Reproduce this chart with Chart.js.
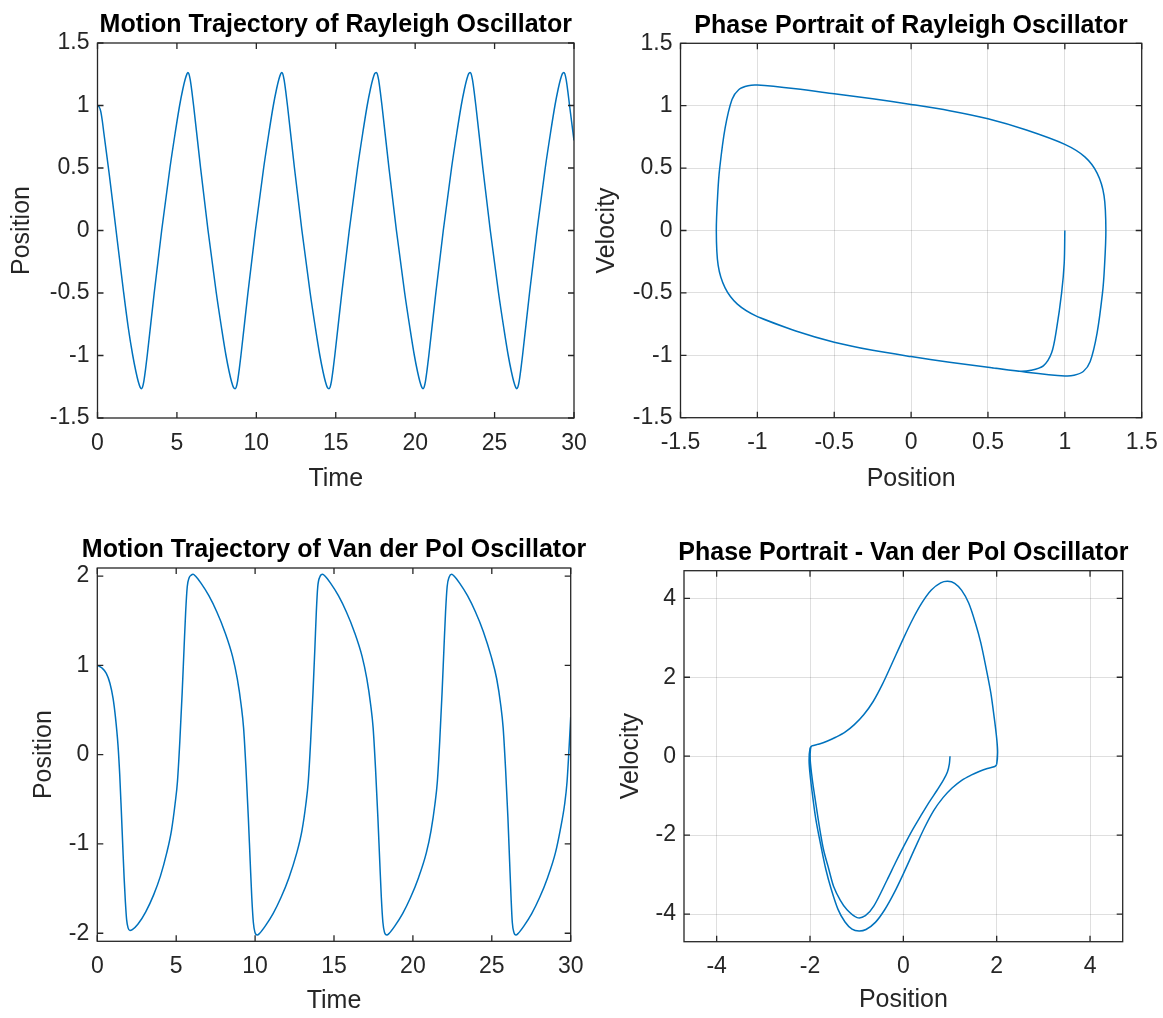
<!DOCTYPE html>
<html>
<head>
<meta charset="utf-8">
<title>Rayleigh and Van der Pol oscillators</title>
<script src="https://cdn.jsdelivr.net/npm/chart.js"></script>
<style>
  html, body { margin: 0; padding: 0; background: #fff; }
  body { width: 1163px; height: 1018px; position: relative; overflow: hidden; }
  canvas { position: absolute; }
</style>
</head>
<body>
<canvas id="rayMotion"></canvas>
<canvas id="rayPhase"></canvas>
<canvas id="vdpMotion"></canvas>
<canvas id="vdpPhase"></canvas>
<script>
// Rayleigh oscillator, position over time
const rayTime = [
  0, 0.1, 0.2, 0.3, 0.4, 0.73, 1.17, 1.62, 1.94, 2.22, 2.42, 2.57, 2.69, 2.77,
  2.83, 2.92, 3.02, 3.13, 3.57, 4.04, 4.56, 4.89, 5.17, 5.37, 5.52, 5.64, 5.69,
  5.75, 5.84, 5.94, 6.05, 6.49, 6.96, 7.48, 7.81, 8.09, 8.29, 8.44, 8.56, 8.67,
  8.73, 8.82, 8.92, 9.03, 9.47, 9.94, 10.46, 10.79, 11.07, 11.27, 11.42, 11.54, 11.6,
  11.66, 11.75, 11.85, 11.96, 12.4, 12.87, 13.39, 13.72, 14.0, 14.2, 14.35, 14.47, 14.58,
  14.64, 14.73, 14.83, 14.94, 15.38, 15.85, 16.37, 16.7, 16.98, 17.18, 17.33, 17.45, 17.55,
  17.61, 17.7, 17.8, 17.91, 18.35, 18.82, 19.34, 19.67, 19.95, 20.15, 20.3, 20.42, 20.5,
  20.56, 20.65, 20.75, 20.86, 21.3, 21.77, 22.29, 22.62, 22.9, 23.1, 23.25, 23.37, 23.46,
  23.52, 23.61, 23.71, 23.82, 24.26, 24.73, 25.25, 25.58, 25.86, 26.06, 26.21, 26.33, 26.4,
  26.46, 26.55, 26.65, 26.76, 27.2, 27.67, 28.19, 28.52, 28.8, 29.0, 29.15, 29.27, 29.36,
  29.42, 29.51, 29.61, 29.72, 30
];
const rayPos = [
  1.0, 0.99, 0.955, 0.88, 0.78, 0.46, 0.0, -0.47, -0.78, -1.0, -1.13, -1.21, -1.255, -1.265,
  -1.255, -1.205, -1.115, -1.0, -0.5, 0.0, 0.5, 0.78, 1.0, 1.13, 1.21, 1.255, 1.265,
  1.255, 1.205, 1.115, 1.0, 0.5, 0.0, -0.5, -0.78, -1.0, -1.13, -1.21, -1.255, -1.265,
  -1.255, -1.205, -1.115, -1.0, -0.5, 0.0, 0.5, 0.78, 1.0, 1.13, 1.21, 1.255, 1.265,
  1.255, 1.205, 1.115, 1.0, 0.5, 0.0, -0.5, -0.78, -1.0, -1.13, -1.21, -1.255, -1.265,
  -1.255, -1.205, -1.115, -1.0, -0.5, 0.0, 0.5, 0.78, 1.0, 1.13, 1.21, 1.255, 1.265,
  1.255, 1.205, 1.115, 1.0, 0.5, 0.0, -0.5, -0.78, -1.0, -1.13, -1.21, -1.255, -1.265,
  -1.255, -1.205, -1.115, -1.0, -0.5, 0.0, 0.5, 0.78, 1.0, 1.13, 1.21, 1.255, 1.265,
  1.255, 1.205, 1.115, 1.0, 0.5, 0.0, -0.5, -0.78, -1.0, -1.13, -1.21, -1.255, -1.265,
  -1.255, -1.205, -1.115, -1.0, -0.5, 0.0, 0.5, 0.78, 1.0, 1.13, 1.21, 1.255, 1.265,
  1.255, 1.205, 1.115, 1.0, 0.72
];

// Rayleigh oscillator, phase plane (position, velocity)
const rayPhasePos = [
  1.0, 0.996, 0.979, 0.946, 0.914, 0.86, 0.78, 0.7, 0.5, 0.25, 0.0, -0.25, -0.5, -0.75, -1.0,
  -1.13, -1.21, -1.255, -1.267, -1.257, -1.245, -1.21, -1.165, -1.12, -1.06, -1.0,
  -0.75, -0.5, -0.25, 0.0, 0.25, 0.5, 0.75, 1.0,
  1.13, 1.21, 1.255, 1.267, 1.257, 1.245, 1.21, 1.165, 1.12, 1.06, 1.0,
  0.75, 0.5, 0.25, 0.0, -0.25, -0.5, -0.75, -1.0
];
const rayPhaseVel = [
  0.0, -0.26, -0.5, -0.79, -0.98, -1.085, -1.12, -1.127, -1.095, -1.055, -1.01, -0.96, -0.895, -0.805, -0.69,
  -0.59, -0.46, -0.28, 0.0, 0.31, 0.5, 0.82, 1.05, 1.13, 1.16, 1.165,
  1.135, 1.095, 1.055, 1.01, 0.96, 0.895, 0.805, 0.69,
  0.59, 0.46, 0.28, 0.0, -0.31, -0.5, -0.82, -1.05, -1.13, -1.16, -1.165,
  -1.135, -1.095, -1.055, -1.01, -0.96, -0.895, -0.805, -0.69
];

// Van der Pol oscillator, position over time
const vdpTime = [
  0, 0.3, 0.57, 0.8, 1.0, 1.15, 1.31, 1.42, 1.52, 1.62, 1.7, 1.78, 1.86, 1.95, 2.07,
  2.22, 2.57, 3.07, 3.57, 4.0, 4.4, 4.7, 4.93, 5.08, 5.23, 5.38, 5.5, 5.6, 5.7, 5.82, 5.95, 6.07,
  6.22, 6.57, 7.07, 7.57, 8.07, 8.57, 8.87, 9.12, 9.27, 9.42, 9.57, 9.69, 9.79, 9.89, 9.99, 10.14,
  10.29, 10.64, 11.14, 11.64, 12.14, 12.64, 12.97, 13.22, 13.37, 13.52, 13.67, 13.79, 13.88, 13.97, 14.1, 14.28,
  14.43, 14.78, 15.28, 15.78, 16.28, 16.78, 17.08, 17.33, 17.48, 17.63, 17.78, 17.9, 18.0, 18.1, 18.2, 18.35,
  18.5, 18.85, 19.35, 19.85, 20.35, 20.85, 21.15, 21.4, 21.55, 21.7, 21.85, 21.97, 22.07, 22.17, 22.3, 22.46,
  22.61, 22.96, 23.46, 23.96, 24.46, 24.96, 25.31, 25.57, 25.72, 25.87, 26.02, 26.13, 26.22, 26.3, 26.4, 26.53,
  26.68, 27.03, 27.53, 28.03, 28.53, 29.03, 29.33, 29.62, 29.77, 29.92, 30
];
const vdpPos = [
  1.0, 0.97, 0.91, 0.8, 0.63, 0.42, 0.11, -0.22, -0.62, -1.05, -1.38, -1.65, -1.85, -1.94, -1.97,
  -1.96, -1.9, -1.76, -1.57, -1.36, -1.1, -0.85, -0.55, -0.3, 0.15, 0.7, 1.2, 1.6, 1.88, 1.98, 2.01, 2.02,
  2.0, 1.92, 1.78, 1.6, 1.38, 1.1, 0.85, 0.55, 0.3, -0.15, -0.7, -1.2, -1.6, -1.88, -1.99, -2.02,
  -2.0, -1.92, -1.78, -1.6, -1.38, -1.1, -0.85, -0.55, -0.3, 0.15, 0.7, 1.2, 1.6, 1.88, 1.99, 2.02,
  2.0, 1.92, 1.78, 1.6, 1.38, 1.1, 0.85, 0.55, 0.3, -0.15, -0.7, -1.2, -1.6, -1.88, -1.99, -2.02,
  -2.0, -1.92, -1.78, -1.6, -1.38, -1.1, -0.85, -0.55, -0.3, 0.15, 0.7, 1.2, 1.6, 1.88, 1.99, 2.02,
  2.0, 1.92, 1.78, 1.6, 1.38, 1.1, 0.85, 0.55, 0.3, -0.15, -0.7, -1.2, -1.6, -1.88, -1.99, -2.02,
  -2.0, -1.92, -1.78, -1.6, -1.38, -1.1, -0.85, -0.55, -0.3, 0.15, 0.42
];

// Van der Pol oscillator, phase plane (position, velocity)
const vdpPhasePos = [
  // start at (1, 0), first swing
  1.0, 0.985, 0.944, 0.86, 0.729, 0.55, 0.37, 0.19, 0.01, -0.17, -0.346, -0.634, -0.813, -0.99,
  -1.207, -1.35, -1.494, -1.6, -1.71, -1.8, -1.888, -1.95, -1.996, -1.99, -1.96,
  // limit cycle, upper half
  -1.8, -1.637, -1.45, -1.25, -1.05, -0.85, -0.65, -0.45, -0.25, 0.0, 0.2, 0.4, 0.6, 0.8, 0.95,
  1.1, 1.25, 1.4, 1.55, 1.66, 1.77, 1.875, 1.95, 2.0, 2.02, 2.0,
  // lower half
  1.96, 1.8, 1.637, 1.45, 1.25, 1.05, 0.85, 0.65, 0.45, 0.25, 0.0, -0.2, -0.4, -0.6, -0.8, -0.95,
  -1.1, -1.25, -1.4, -1.55, -1.66, -1.77, -1.875, -1.95, -2.0, -2.02, -2.0,
  // next lap over the same path
  -1.96, -1.8, -1.637, -1.45, -1.25, -1.05, -0.85, -0.65, -0.45, -0.25, 0.0, 0.2, 0.4, 0.6, 0.8, 0.95,
  1.1, 1.25, 1.4, 1.55, 1.66, 1.77, 1.875, 1.95, 2.0, 2.02, 2.0
];
const vdpPhaseVel = [
  0.0, -0.2, -0.4, -0.6, -0.85, -1.17, -1.52, -1.88, -2.28, -2.7, -3.13, -3.8, -4.04, -4.09,
  -3.89, -3.65, -3.3, -2.85, -2.37, -1.78, -1.1, -0.6, -0.09, 0.18, 0.26,
  0.31, 0.38, 0.48, 0.61, 0.8, 1.05, 1.38, 1.82, 2.33, 2.98, 3.47, 3.89, 4.21, 4.39, 4.43,
  4.38, 4.2, 3.88, 3.35, 2.87, 2.25, 1.6, 0.95, 0.45, 0.1, -0.2,
  -0.26, -0.31, -0.38, -0.48, -0.61, -0.8, -1.05, -1.38, -1.82, -2.33, -2.98, -3.47, -3.89, -4.21, -4.39, -4.43,
  -4.38, -4.2, -3.88, -3.35, -2.87, -2.25, -1.6, -0.95, -0.45, -0.1, 0.2,
  0.26, 0.31, 0.38, 0.48, 0.61, 0.8, 1.05, 1.38, 1.82, 2.33, 2.98, 3.47, 3.89, 4.21, 4.39, 4.43,
  4.38, 4.2, 3.88, 3.35, 2.87, 2.25, 1.6, 0.95, 0.45, 0.1, -0.2
];

// tick positions
const timeTicks = [0, 5, 10, 15, 20, 25, 30];
const rayTicks = [-1.5, -1, -0.5, 0, 0.5, 1, 1.5];
const vdpPosTicks = [-2, -1, 0, 1, 2];
const vdpPhaseTicks = [-4, -2, 0, 2, 4];

const FONT = '"Liberation Sans", Arial, Helvetica, sans-serif';
const INK = '#262626';
const LINE = '#0072BD';
const GRID = 'rgba(38, 38, 38, 0.15)';

// box around the axes with inward tick marks on all four sides
const matlabFrame = {
  id: 'matlabFrame',
  afterDatasetsDraw(chart) {
    const { ctx, chartArea: a } = chart;
    const { x, y } = chart.scales;
    const len = 6;
    ctx.save();
    ctx.strokeStyle = INK;
    ctx.lineWidth = 1.3;
    ctx.beginPath();
    x.ticks.forEach(t => {
      const p = x.getPixelForValue(t.value);
      ctx.moveTo(p, a.bottom); ctx.lineTo(p, a.bottom - len);
      ctx.moveTo(p, a.top); ctx.lineTo(p, a.top + len);
    });
    y.ticks.forEach(t => {
      const p = y.getPixelForValue(t.value);
      ctx.moveTo(a.left, p); ctx.lineTo(a.left + len, p);
      ctx.moveTo(a.right, p); ctx.lineTo(a.right - len, p);
    });
    ctx.stroke();
    ctx.strokeRect(a.left, a.top, a.right - a.left, a.bottom - a.top);
    ctx.restore();
  }
};

// bold title centred over the plot area
const axesTitle = {
  id: 'axesTitle',
  afterDraw(chart, args, opts) {
    const { ctx, chartArea: a } = chart;
    ctx.save();
    ctx.fillStyle = '#000';
    ctx.font = 'bold 25px ' + FONT;
    ctx.textAlign = 'center';
    ctx.textBaseline = 'middle';
    ctx.fillText(opts.text, (a.left + a.right) / 2, a.top - 17.5);
    ctx.restore();
  }
};

function axis(o) {
  return {
    type: 'linear',
    min: o.min,
    max: o.max,
    afterBuildTicks: s => { s.ticks = o.ticks.map(v => ({ value: v })); },
    afterFit: s => {
      if (s.isHorizontal()) s.height = o.size; else s.width = o.size;
      s.paddingLeft = s.paddingRight = s.paddingTop = s.paddingBottom = 0;
    },
    grid: { display: o.grid, color: GRID, lineWidth: 1, drawTicks: false },
    border: { display: false },
    ticks: {
      color: INK, font: { family: FONT, size: 23 }, padding: o.tickPad,
      autoSkip: false, maxRotation: 0, minRotation: 0,
      callback: v => String(v)
    },
    title: {
      display: true, text: o.label, color: INK,
      font: { family: FONT, size: 25 }, padding: o.titlePad
    }
  };
}

function makePlot(id, box, cfg) {
  const canvas = document.getElementById(id);
  canvas.width = box.w;
  canvas.height = box.h;
  canvas.style.left = box.x + 'px';
  canvas.style.top = box.y + 'px';

  const points = cfg.xs.map((v, i) => ({ x: v, y: cfg.ys[i] }));

  return new Chart(canvas, {
    type: 'line',
    data: {
      datasets: [{
        data: points,
        borderColor: LINE,
        borderWidth: 1.5,
        pointRadius: 0,
        fill: false,
        tension: cfg.tension,
        cubicInterpolationMode: cfg.monotone ? 'monotone' : 'default'
      }]
    },
    options: {
      responsive: false,
      animation: false,
      events: [],
      layout: { padding: { left: 0, top: box.padTop, right: box.padRight, bottom: 0 } },
      plugins: {
        legend: { display: false },
        tooltip: { enabled: false },
        title: { display: false },
        axesTitle: { text: cfg.title }
      },
      scales: {
        x: axis(cfg.x),
        y: axis(cfg.y)
      }
    },
    plugins: [matlabFrame, axesTitle]
  });
}

makePlot('rayMotion',
  { x: 0, y: 0, w: 600, h: 509, padTop: 43, padRight: 26 },
  {
    title: 'Motion Trajectory of Rayleigh Oscillator',
    xs: rayTime, ys: rayPos, tension: 0, monotone: true,
    x: { min: 0, max: 30, ticks: timeTicks, size: 91, grid: false, tickPad: 11.4, label: 'Time', titlePad: { top: 0, bottom: 15 } },
    y: { min: -1.5, max: 1.5, ticks: rayTicks, size: 97.5, grid: false, tickPad: 8, label: 'Position', titlePad: { top: 7.5, bottom: 0 } }
  });

makePlot('rayPhase',
  { x: 581, y: 0, w: 582, h: 509, padTop: 43.3, padRight: 21.3 },
  {
    title: 'Phase Portrait of Rayleigh Oscillator',
    xs: rayPhasePos, ys: rayPhaseVel, tension: 0.3, monotone: false,
    x: { min: -1.5, max: 1.5, ticks: rayTicks, size: 91.3, grid: true, tickPad: 11.4, label: 'Position', titlePad: { top: 0, bottom: 15 } },
    y: { min: -1.5, max: 1.5, ticks: rayTicks, size: 99.5, grid: true, tickPad: 8, label: 'Velocity', titlePad: { top: 11, bottom: 0 } }
  });

makePlot('vdpMotion',
  { x: 0, y: 509, w: 600, h: 509, padTop: 59, padRight: 29.3 },
  {
    title: 'Motion Trajectory of Van der Pol Oscillator',
    xs: vdpTime, ys: vdpPos, tension: 0, monotone: true,
    x: { min: 0, max: 30, ticks: timeTicks, size: 76.7, grid: false, tickPad: 11.4, label: 'Time', titlePad: { top: 0, bottom: 2 } },
    y: { min: -2.09, max: 2.09, ticks: vdpPosTicks, size: 97.3, grid: false, tickPad: 8, label: 'Position', titlePad: { top: 29, bottom: 0 } }
  });

makePlot('vdpPhase',
  { x: 581, y: 509, w: 582, h: 509, padTop: 61.7, padRight: 40.3 },
  {
    title: 'Phase Portrait - Van der Pol Oscillator',
    xs: vdpPhasePos, ys: vdpPhaseVel, tension: 0.3, monotone: false,
    x: { min: -4.7, max: 4.7, ticks: vdpPhaseTicks, size: 76.3, grid: true, tickPad: 11.4, label: 'Position', titlePad: { top: 0, bottom: 3 } },
    y: { min: -4.7, max: 4.7, ticks: vdpPhaseTicks, size: 103, grid: true, tickPad: 8, label: 'Velocity', titlePad: { top: 35.5, bottom: 0 } }
  });
</script>
</body>
</html>
